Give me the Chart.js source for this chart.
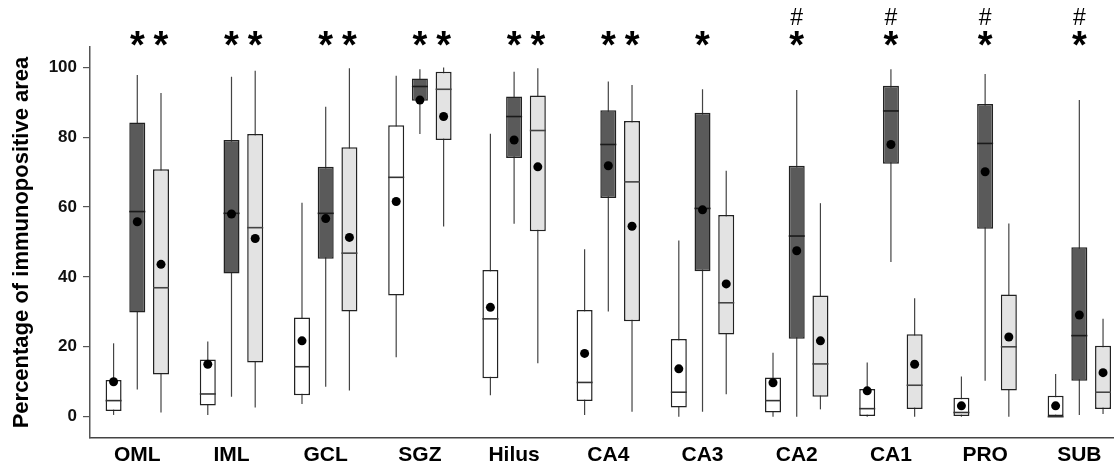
<!DOCTYPE html>
<html>
<head>
<meta charset="utf-8">
<script src="https://cdn.jsdelivr.net/npm/chart.js@4/dist/chart.umd.min.js"></script>
<style>
  html, body { margin: 0; padding: 0; background: #fff; }
  #wrap { width: 1114px; height: 467px; }
</style>
</head>
<body>
<div id="wrap"><canvas id="boxChart"></canvas></div>
<script>
// Regions along the x axis
const regions = ['OML', 'IML', 'GCL', 'SGZ', 'Hilus', 'CA4', 'CA3', 'CA2', 'CA1', 'PRO', 'SUB'];
const yTicks = [0, 20, 40, 60, 80, 100];

// Group 1 (white boxes)
const whiteLow  = [0.5, 0.5, 3.6, 17.0, 6.1, 0.5, 0, 0, 0, 0, 0];
const whiteQ1   = [1.6, 3.2, 6.1, 34.7, 11.0, 4.5, 2.6, 1.2, 0, 0, 0];
const whiteMed  = [4.6, 6.5, 14.3, 68.5, 28.0, 9.8, 7.0, 4.6, 2.3, 1.2, 0];
const whiteQ3   = [10.5, 16.4, 28.4, 83.4, 42.0, 30.5, 22.2, 11.2, 7.9, 5.4, 6.0];
const whiteHigh = [21.0, 21.5, 61.2, 97.6, 81.0, 47.9, 50.4, 18.3, 15.5, 11.5, 12.2];
const whiteMean = [10.0, 15.0, 21.7, 61.6, 31.3, 18.1, 13.7, 9.7, 7.4, 3.1, 3.1];

// Group 2 (dark boxes)
const darkLow  = [7.8, 5.7, 8.6, 80.9, 55.2, 30.1, 1.4, 0, 44.3, 10.3, 0.5];
const darkQ1   = [29.8, 41.0, 45.2, 90.4, 74.0, 62.6, 41.6, 22.3, 72.4, 53.8, 10.3];
const darkMed  = [58.7, 58.2, 58.2, 94.5, 85.9, 77.9, 59.6, 51.7, 87.5, 78.2, 23.2];
const darkQ3   = [84.2, 79.2, 71.5, 96.8, 91.6, 87.7, 87.0, 71.8, 94.7, 89.5, 48.5];
const darkHigh = [97.8, 97.3, 88.7, 99.4, 98.7, 95.9, 93.7, 93.5, 99.4, 98.1, 90.6];
const darkMean = [55.8, 58.0, 56.7, 90.6, 79.2, 71.8, 59.2, 47.5, 77.9, 70.1, 29.1];

// Group 3 (light gray boxes)
const lightLow  = [1.2, 2.6, 7.5, 54.4, 15.3, 1.4, 6.4, 2.1, 0, 0, 0.8];
const lightQ1   = [12.1, 15.5, 30.1, 79.2, 53.1, 27.3, 23.5, 5.7, 2.2, 7.5, 2.2];
const lightMed  = [36.9, 54.1, 46.8, 93.7, 81.9, 67.2, 32.6, 15.1, 9.0, 20.0, 7.0];
const lightQ3   = [70.8, 80.9, 77.1, 98.7, 91.9, 84.6, 57.7, 34.7, 23.6, 35.0, 20.3];
const lightHigh = [92.6, 99.0, 99.7, 99.9, 99.7, 94.9, 70.4, 61.1, 33.9, 55.3, 28.0];
const lightMean = [43.6, 51.0, 51.3, 85.9, 71.5, 54.5, 38.0, 21.7, 15.0, 22.8, 12.6];

// significance marks (1 = shown)
const starDark  = [1, 1, 1, 1, 1, 1, 1, 1, 1, 1, 1];
const starLight = [1, 1, 1, 1, 1, 1, 0, 0, 0, 0, 0];
const hashDark  = [0, 0, 0, 0, 0, 0, 0, 1, 1, 1, 1];

const groups = [
  { low: whiteLow, q1: whiteQ1, med: whiteMed, q3: whiteQ3, high: whiteHigh, mean: whiteMean, fill: '#ffffff', medColor: '#333' },
  { low: darkLow, q1: darkQ1, med: darkMed, q3: darkQ3, high: darkHigh, mean: darkMean, fill: '#5a5a5a', medColor: '#1a1a1a' },
  { low: lightLow, q1: lightQ1, med: lightMed, q3: lightQ3, high: lightHigh, mean: lightMean, fill: '#e3e3e3', medColor: '#444' }
];

const FONT = "'Liberation Sans', Arial, sans-serif";

// whiskers, medians, means and the marks on top
const boxExtras = {
  id: 'boxExtras',
  beforeDatasetDraw(chart, args) {
    const g = groups[args.index];
    const y = chart.scales.y;
    const ctx = chart.ctx;
    ctx.save();
    ctx.strokeStyle = '#444';
    ctx.lineWidth = 1.2;
    args.meta.data.forEach((bar, i) => {
      ctx.beginPath();
      ctx.moveTo(bar.x, y.getPixelForValue(g.low[i]));
      ctx.lineTo(bar.x, y.getPixelForValue(g.high[i]));
      ctx.stroke();
    });
    ctx.restore();
  },
  afterDatasetDraw(chart, args) {
    const g = groups[args.index];
    const y = chart.scales.y;
    const ctx = chart.ctx;
    ctx.save();
    args.meta.data.forEach((bar, i) => {
      const half = bar.width / 2;
      const my = y.getPixelForValue(g.med[i]);
      ctx.strokeStyle = g.medColor;
      ctx.lineWidth = 1.6;
      ctx.beginPath();
      ctx.moveTo(bar.x - half, my);
      ctx.lineTo(bar.x + half, my);
      ctx.stroke();
      ctx.fillStyle = '#000';
      ctx.beginPath();
      ctx.arc(bar.x, y.getPixelForValue(g.mean[i]), 4.5, 0, Math.PI * 2);
      ctx.fill();
    });
    ctx.restore();
  },
  afterDraw(chart) {
    const ctx = chart.ctx;
    const darkBars = chart.getDatasetMeta(1).data;
    const lightBars = chart.getDatasetMeta(2).data;
    ctx.save();
    ctx.fillStyle = '#000';
    ctx.textAlign = 'center';
    ctx.textBaseline = 'alphabetic';
    ctx.font = 'bold 38px ' + FONT;
    regions.forEach((r, i) => {
      if (starDark[i]) ctx.fillText('*', darkBars[i].x, 58);
      if (starLight[i]) ctx.fillText('*', lightBars[i].x, 58);
    });
    ctx.font = '23px ' + FONT;
    regions.forEach((r, i) => {
      if (hashDark[i]) ctx.fillText('#', darkBars[i].x, 25);
    });
    ctx.restore();
  }
};

function boxData(g) {
  return regions.map((r, i) => ({ x: i, y: [g.q1[i], g.q3[i]] }));
}

const boxChart = new Chart(document.getElementById('boxChart').getContext('2d'), {
  type: 'bar',
  data: {
    datasets: groups.map((g, k) => ({
      label: 'group ' + (k + 1),
      data: boxData(g),
      backgroundColor: g.fill,
      borderColor: '#222',
      borderWidth: 1.5,
      borderSkipped: false,
      categoryPercentage: 0.755,
      barPercentage: 0.675
    }))
  },
  options: {
    responsive: true,
    maintainAspectRatio: false,
    animation: false,
    layout: { padding: { top: 47, right: 0, left: 0, bottom: 0 } },
    plugins: { legend: { display: false }, tooltip: { enabled: false } },
    scales: {
      x: {
        type: 'linear',
        offset: false,
        min: -0.502,
        max: 10.368,
        afterBuildTicks: (scale) => { scale.ticks = regions.map((r, i) => ({ value: i })); },
        afterFit: (scale) => { scale.height = 29; },
        grid: { display: false, drawTicks: false, offset: false },
        border: { display: true, color: '#444', width: 1.5 },
        ticks: {
          color: '#000',
          font: { family: FONT, size: 21, weight: 'bold' },
          padding: 5,
          maxRotation: 0,
          autoSkip: false,
          callback: (v) => regions[v]
        }
      },
      y: {
        min: -6.1,
        max: 105.8,
        afterBuildTicks: (scale) => { scale.ticks = yTicks.map(v => ({ value: v })); },
        afterFit: (scale) => { scale.width = 90; },
        grid: { drawOnChartArea: false, drawTicks: true, tickLength: 7, color: '#555', lineWidth: 1.2 },
        border: { display: true, color: '#555', width: 1.5 },
        ticks: {
          color: '#111',
          font: { family: FONT, size: 17, weight: 'bold' },
          padding: 6
        },
        title: {
          display: true,
          text: 'Percentage of immunopositive area',
          color: '#000',
          font: { family: FONT, size: 22, weight: 'bold' },
          padding: { top: 9, bottom: 0 }
        }
      }
    }
  },
  plugins: [boxExtras]
});
</script>
</body>
</html>
